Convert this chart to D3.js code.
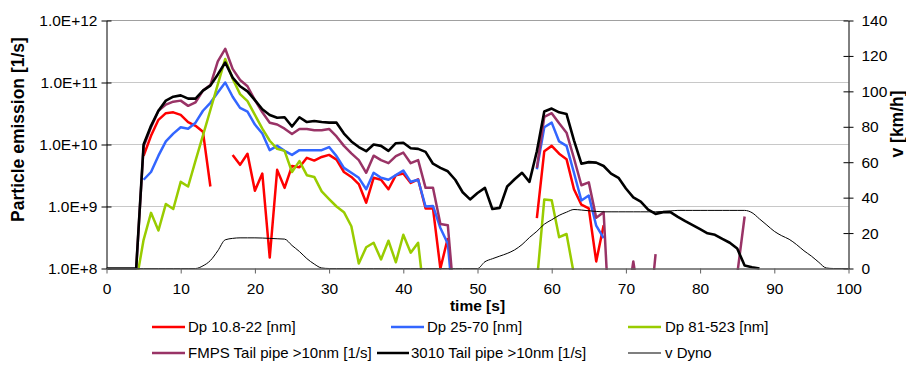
<!DOCTYPE html>
<html>
<head>
<meta charset="utf-8">
<script src="https://cdn.jsdelivr.net/npm/d3@7"></script>
<style>
  body { margin: 0; background: #fff; }
  svg { display: block; font-family: "Liberation Sans", Arial, sans-serif; }
</style>
</head>
<body>
<svg id="chart" width="906" height="367"></svg>
<script>
// Sample clock in seconds (1 Hz)
const seconds = d3.range(0, 101);

// Particle emission [1/s]; null = no reading
const dpSmall = [ // Dp 10.8-22 nm
  null, null, null, null, null, 6.6e9, 1.38e10, 2.5e10, 3.2e10, 3.3e10,
  3.0e10, 2.3e10, 2.0e10, 1.6e10, 2.1e9, null, null, 6.8e9, 4.7e9, 7.1e9,
  1.8e9, 3.4e9, 1.5e8, 3.9e9, 2.0e9, 4.5e9, 4.3e9, 6.1e9, 5.5e9, 6.3e9,
  6.8e9, 5.7e9, 3.6e9, 3.0e9, 2.3e9, 1.15e9, 2.9e9, 2.7e9, 1.9e9, 3.2e9,
  3.4e9, 2.4e9, 2.75e9, 9.3e8, 9.3e8, 1.0e8, 3.1e8, null, null, null,
  null, null, null, null, null, null, null, null, 6.5e8, 7.8e9,
  9.5e9, 7.1e9, 5.8e9, 1.9e9, 1.07e9, 9.3e8, 1.3e8, 5.0e8
];
const dpMid = [ // Dp 25-70 nm
  null, null, null, null, null, 2.7e9, 3.6e9, 6.6e9, 1.12e10, 1.5e10,
  1.9e10, 1.8e10, 2.25e10, 3.5e10, 4.7e10, 6.9e10, 1.0e11, 5.9e10, 3.9e10, 3.4e10,
  2.1e10, 1.5e10, 8.1e9, 9.5e9, 7.9e9, 6.8e9, 8.1e9, 8.1e9, 8.1e9, 8.1e9,
  9.1e9, 6.5e9, 4.2e9, 3.5e9, 2.9e9, 1.9e9, 3.5e9, 2.9e9, 2.7e9, 3.2e9,
  3.8e9, 2.5e9, 2.7e9, 1.0e9, 1.02e9, 4.5e8, 2.5e8, 1.2e7, null, null,
  null, null, null, null, null, null, null, null, 4.0e9, 1.9e10,
  2.25e10, 1.12e10, 9.5e9, 3.5e9, 1.25e9, 1.5e9, 4.9e8, 3.1e8
];
const dpLarge = [ // Dp 81-523 nm
  null, null, null, null, 6e7, 2.9e8, 7.9e8, 4.1e8, 1.1e9, 9.1e8,
  2.5e9, 2.1e9, 5.5e9, 1.4e10, 3.6e10, 9.3e10, 2.4e11, 1.15e11, 6.5e10, 5.0e10,
  3.0e10, 1.8e10, 1.15e10, 8.5e9, 7.9e9, 3.6e9, 5.4e9, 3.2e9, 3.0e9, 1.75e9,
  1.32e9, 1.0e9, 8.1e8, 4.8e8, 1.2e8, 2.2e8, 2.6e8, 1.4e8, 2.8e8, 1.26e8,
  3.5e8, 1.8e8, 2.6e8, 2.3e7, null, null, null, null, null, null,
  null, null, null, null, null, null, null, null, 6e7, 1.3e9,
  1.26e9, 3.2e8, 3.6e8, 8e7
];
const fmpsTail = [ // FMPS tail pipe >10 nm
  null, null, null, null, 1e8, 9.3e9, 1.9e10, 3.5e10, 4.4e10, 4.9e10,
  5.1e10, 4.2e10, 4.8e10, 7.4e10, 9.1e10, 2.2e11, 3.5e11, 1.66e11, 1.1e11, 8.7e10,
  5.2e10, 3.3e10, 2.25e10, 2.1e10, 1.8e10, 1.48e10, 1.78e10, 1.78e10, 1.7e10, 1.7e10,
  1.78e10, 1.35e10, 9.5e9, 7.2e9, 5.6e9, 3.5e9, 6.6e9, 5.6e9, 5.0e9, 6.5e9,
  7.4e9, 5.0e9, 5.6e9, 2.0e9, 2.0e9, 5.2e8, 5.0e8, 2e7, null, null,
  null, null, null, null, null, null, null, null, 4.2e9, 2.8e10,
  3.2e10, 2.2e10, 1.55e10, 6.0e9, 2.2e9, 2.45e9, 6.6e8, 8.1e8, 4e6, 1e6,
  2e7, 1.3e8, 2e7, 1e7, 1.7e8, null, null, null, null, null,
  null, null, null, null, null, 8e7, 6.9e8
];
const cpcTail = [ // 3010 tail pipe >10 nm
  1e8, 1e8, 1e8, 1e8, 1e8, 1.0e10, 2.0e10, 3.5e10, 5.1e10, 5.9e10,
  6.2e10, 5.5e10, 5.5e10, 7.4e10, 8.9e10, 1.35e11, 2.1e11, 1.2e11, 8.7e10, 7.2e10,
  5.2e10, 3.7e10, 3.0e10, 2.7e10, 2.75e10, 1.95e10, 2.75e10, 2.3e10, 2.4e10, 2.3e10,
  2.25e10, 2.25e10, 1.5e10, 1.12e10, 9.1e9, 7.8e9, 1.0e10, 9.5e9, 7.9e9, 1.05e10,
  1.07e10, 8.7e9, 8.5e9, 7.6e9, 4.9e9, 4.2e9, 3.7e9, 2.7e9, 1.7e9, 1.3e9,
  1.65e9, 2.0e9, 9.1e8, 9.5e8, 2.1e9, 2.75e9, 3.5e9, 2.5e9, 7.8e9, 3.4e10,
  3.8e10, 3.3e10, 3.1e10, 1.17e10, 4.9e9, 5.2e9, 5.1e9, 4.5e9, 3.4e9, 2.9e9,
  1.95e9, 1.4e9, 1.2e9, 8.9e8, 7.6e8, 8.1e8, 8.1e8, 6.8e8, 5.8e8, 5.0e8,
  4.3e8, 3.7e8, 3.5e8, 3.0e8, 2.6e8, 2.1e8, 1.12e8, 1.05e8, 1e8
];
// Dyno speed [km/h]
const vDyno = [
  0, 0, 0, 0, 0, 0, 0, 0, 0, 0,
  0, 0, 0, 1.5, 4.5, 10, 16.2, 17, 17.3, 17.3,
  17.3, 17.2, 17, 16.8, 16.6, 13, 9.6, 5.6, 2.5, 0.3,
  0, 0, 0, 0, 0, 0, 0, 0, 0, 0,
  0, 0, 0, 0, 0, 0, 0, 0, 0, 0,
  0, 3.8, 5.5, 7, 8.5, 10.5, 13.5, 17.5, 21, 25,
  27.5, 30, 31.8, 33.3, 33, 32.6, 32.2, 32, 32, 32,
  32, 32, 32, 32, 32, 32.2, 32.5, 32.8, 32.8, 32.8,
  32.8, 32.8, 32.8, 32.8, 32.8, 32.8, 32.8, 31.5, 28, 24.5,
  21, 18.5, 16.5, 13.5, 10, 7, 3.5, 0.3, 0, 0, 0
];

const emissionTicks = [1e8, 1e9, 1e10, 1e11, 1e12];
const speedTicks = [0, 20, 40, 60, 80, 100, 120, 140];
const timeTicks = [0, 10, 20, 30, 40, 50, 60, 70, 80, 90, 100];

const emissionSeries = [
  { name: "Dp 10.8-22 [nm]", values: dpSmall, color: "#ff0000", width: 2.5 },
  { name: "Dp 25-70 [nm]", values: dpMid, color: "#3366ff", width: 2.5 },
  { name: "Dp 81-523 [nm]", values: dpLarge, color: "#99cc00", width: 2.5 },
  { name: "FMPS Tail pipe >10nm [1/s]", values: fmpsTail, color: "#993366", width: 2.5 },
  { name: "3010 Tail pipe >10nm [1/s]", values: cpcTail, color: "#000000", width: 2.6 }
];

const svg = d3.select("#chart");
const plotLeft = 106.5, plotRight = 848.5, plotTop = 20.5, plotBottom = 268.5;

const x = d3.scaleLinear().domain([0, 100]).range([plotLeft, plotRight]);
const y = d3.scaleLog().domain([1e8, 1e12]).range([plotBottom, plotTop]);
const yv = d3.scaleLinear().domain([0, 140]).range([plotBottom, plotTop]);

// horizontal gridlines per decade
svg.append("g").selectAll("line")
  .data(emissionTicks.slice(1))
  .join("line")
  .attr("x1", plotLeft).attr("x2", plotRight)
  .attr("y1", d => y(d)).attr("y2", d => y(d))
  .attr("stroke", d => d === 1e12 ? "#a0a0a0" : "#c8c8c8")
  .attr("stroke-width", 1);

// clip so sub-range readings fall off the bottom of the plot
svg.append("clipPath").attr("id", "plot-clip")
  .append("rect")
  .attr("x", plotLeft).attr("y", plotTop - 6)
  .attr("width", plotRight - plotLeft).attr("height", plotBottom - plotTop + 7.5);

const plot = svg.append("g").attr("clip-path", "url(#plot-clip)");

emissionSeries.forEach(s => {
  const pts = seconds.map((t, i) => ({ t, v: s.values[i] }));
  const line = d3.line()
    .defined(d => d.v != null)
    .x(d => x(d.t))
    .y(d => y(d.v));
  plot.append("path")
    .datum(pts)
    .attr("d", line)
    .attr("fill", "none")
    .attr("stroke", s.color)
    .attr("stroke-width", s.width)
    .attr("stroke-linejoin", "round");
});

// speed trace on the secondary axis
const speedLine = d3.line()
  .x((d, i) => x(seconds[i]))
  .y(d => yv(d))
  .curve(d3.curveMonotoneX);
plot.append("path")
  .datum(vDyno)
  .attr("d", speedLine)
  .attr("fill", "none")
  .attr("stroke", "#000")
  .attr("stroke-width", 1);

// axes
const tickFont = 15.5;
const legendFont = 15;
const crossTicks = (g, dir) => {
  g.selectAll(".tick").append("line")
    .attr("x2", dir * 5).attr("stroke", "#000");
};

const yAxis = svg.append("g")
  .attr("transform", `translate(${plotLeft},0)`)
  .call(d3.axisLeft(y).tickValues(emissionTicks)
    .tickFormat(d => "1.0E+" + Math.round(Math.log10(d)))
    .tickSizeInner(5).tickSizeOuter(0).tickPadding(4));
yAxis.call(crossTicks, 1);

const vAxis = svg.append("g")
  .attr("transform", `translate(${plotRight},0)`)
  .call(d3.axisRight(yv).tickValues(speedTicks)
    .tickSizeInner(5).tickSizeOuter(0).tickPadding(8));
vAxis.call(crossTicks, -1);

const xAxis = svg.append("g")
  .attr("transform", `translate(0,${plotBottom})`)
  .call(d3.axisBottom(x).tickValues(timeTicks)
    .tickSizeInner(5).tickSizeOuter(0).tickPadding(9));

[yAxis, vAxis].forEach(g => {
  g.select(".domain").attr("stroke", "#000");
  g.selectAll(".tick line").attr("stroke", "#000");
});
xAxis.select(".domain").attr("stroke", "#606060").attr("stroke-width", 1.5);
xAxis.selectAll(".tick line").attr("stroke", "#606060");
[yAxis, vAxis, xAxis].forEach(g => {
  g.selectAll("text")
    .attr("font-size", tickFont)
    .attr("font-family", "'Liberation Sans', Arial, sans-serif")
    .attr("fill", "#000");
});

// axis titles
svg.append("text")
  .attr("transform", "translate(24,129.5) rotate(-90)")
  .attr("text-anchor", "middle")
  .attr("font-weight", "bold").attr("font-size", 17.5)
  .text("Particle emission [1/s]");

svg.append("text")
  .attr("transform", "translate(903,124) rotate(-90)")
  .attr("text-anchor", "middle")
  .attr("font-weight", "bold").attr("font-size", 17.5)
  .text("v [km/h]");

svg.append("text")
  .attr("x", (plotLeft + plotRight) / 2).attr("y", 311)
  .attr("text-anchor", "middle")
  .attr("font-weight", "bold").attr("font-size", 15.5)
  .text("time [s]");

// legend
const legendItems = [
  { name: emissionSeries[0].name, color: emissionSeries[0].color, w: 2.5, x1: 152, x2: 185, tx: 188, y: 327 },
  { name: emissionSeries[1].name, color: emissionSeries[1].color, w: 2.5, x1: 391, x2: 424, tx: 427, y: 327 },
  { name: emissionSeries[2].name, color: emissionSeries[2].color, w: 2.5, x1: 628, x2: 661, tx: 665, y: 327 },
  { name: emissionSeries[3].name, color: emissionSeries[3].color, w: 2.5, x1: 152, x2: 185, tx: 188, y: 353 },
  { name: emissionSeries[4].name, color: emissionSeries[4].color, w: 2.5, x1: 377, x2: 409, tx: 411, y: 353 },
  { name: "v Dyno", color: "#000", w: 1.2, x1: 628, x2: 661, tx: 665, y: 353 }
];
const legend = svg.append("g");
legendItems.forEach(d => {
  legend.append("line")
    .attr("x1", d.x1).attr("x2", d.x2)
    .attr("y1", d.y).attr("y2", d.y)
    .attr("stroke", d.color).attr("stroke-width", d.w);
  legend.append("text")
    .attr("x", d.tx).attr("y", d.y)
    .attr("dy", "0.35em")
    .attr("font-size", legendFont)
    .text(d.name);
});
</script>
</body>
</html>
